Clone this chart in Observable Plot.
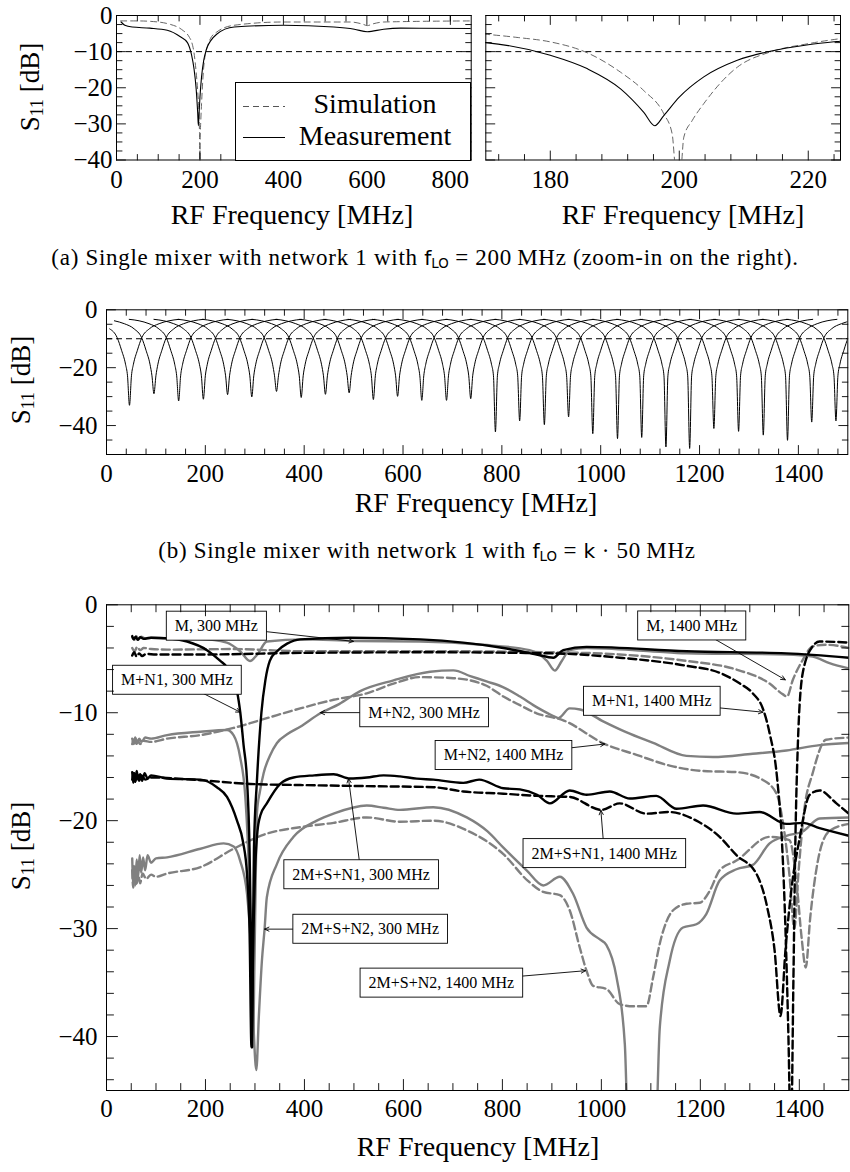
<!DOCTYPE html>
<html><head><meta charset="utf-8">
<script src="https://cdn.jsdelivr.net/npm/d3@7"></script>
<script src="https://cdn.jsdelivr.net/npm/@observablehq/plot@0.6"></script>
<style>
body{margin:0;background:#fff;}
#root{position:relative;width:850px;height:1172px;font-family:"Liberation Serif",serif;color:#000;overflow:hidden;}
.title{position:absolute;font-size:28px;white-space:nowrap;transform:translate(-50%,-50%);line-height:1;}
.ylab{position:absolute;font-size:27px;white-space:nowrap;transform:translate(-50%,-50%) rotate(-90deg);line-height:1;}
.cap{position:absolute;font-size:23px;letter-spacing:0.7px;white-space:nowrap;transform:translate(-50%,-50%);line-height:1;}
sub{font-size:0.66em;vertical-align:-0.28em;line-height:0;}
.sf{font-family:"DejaVu Sans",sans-serif;font-size:0.88em;letter-spacing:0;}
</style></head><body><div id="root"></div>
<script>
// ---------------- Panel (a) data: S11 [dB] vs RF frequency [MHz] ----------------
const aSimulation = [[10,-1.5],[50,-1.5],[100,-1.8],[130,-2.5],[150,-3.4],[160,-4.2],[170,-5.2],[175,-6.1],[180,-7.3],[185.7,-10.3],[190.9,-15.7],[194.5,-20.8],[197.6,-27.2],[198.9,-32.8],[199.5,-43],[200.2,-43],[200.7,-33.7],[202,-29.1],[203.8,-24.4],[209,-14.3],[214.1,-10.1],[220,-7.8],[225,-6.4],[240,-4.6],[282,-2.7],[400,-1.8],[560,-1.8],[590,-2.4],[601,-2.8],[615,-2.3],[641,-1.8],[850,-1.5]];
const aMeasurement = [[11,-1.8],[20,-2.7],[37.6,-3.2],[80,-3.5],[121.6,-4.1],[153,-5.9],[170,-7.5],[180,-11.0],[185.7,-14.7],[190.9,-20.3],[194.5,-26.8],[196.2,-30.5],[197.6,-27.7],[200,-22.6],[203.8,-17.0],[209,-12.4],[214.1,-9.9],[220,-8.1],[225,-7.1],[240,-5.2],[282,-3.2],[400,-2.7],[521,-3.2],[570,-3.8],[601,-4.5],[640,-3.8],[681,-3.5],[850,-3.6]];

// ---------------- Panel (b) data: one measured dip per LO frequency k*50 MHz ----------------
const bDipFreq = [46.5,96,146,196,245,294,344,394,443,491,540,589,638,688,737,787,836,886,935,984,1034,1083,1132,1180,1229,1279,1329,1378,1427,1476];
const bDipDepth = [-33.0,-29.0,-31.5,-30.9,-29.3,-30.1,-28.2,-30.3,-29.2,-28.7,-31.0,-29.9,-31.3,-31.3,-30.7,-42.2,-38.4,-39.7,-37.0,-42.8,-44.5,-44.1,-47.4,-47.9,-41.0,-42.0,-43.3,-45.1,-38.8,-38.4];
const bOffsets = [-100,-80,-60,-40,-25,-16,-8,-4,0,4,8,16,25,40,60,80,100];
const bLevels  = [-3.3,-3.8,-4.8,-6.6,-9.6,-14.0,-18.8,-22.8,null,-22.8,-18.8,-14.0,-9.6,-6.6,-4.8,-3.8,-3.3];

// ---------------- Panel (c) data ----------------
const cM300 = [[52,-3.0],[56,-3.25],[60,-2.9],[65,-3.2],[70,-2.95],[78,-3.1],[90,-3.05],[120,-3.1],[190,-3.15],[243,-3.5],[270,-4.3],[290,-5.2],[305,-4.6],[324,-3.4],[400,-3.2],[500,-3.35],[634,-3.4],[760,-3.7],[855,-4.2],[890,-5.2],[906,-6.1],[920,-5.2],[936,-4.2],[970,-4.0],[1100,-4.3],[1172,-4.5],[1374,-4.6],[1427,-4.8],[1461,-5.4],[1500,-5.9]];
const cMN1_300 = [[52,-2.9],[55,-3.2],[59,-2.95],[63,-3.25],[68,-3.0],[75,-3.15],[90,-3.05],[120,-3.1],[163,-3.4],[203,-4.2],[230,-5.2],[243.5,-5.8],[255,-6.9],[263.7,-8.0],[270.4,-10],[277,-13],[284,-16.3],[289,-22.5],[292,-31],[294,-41],[296,-31],[298,-22.5],[304,-16.3],[313,-10],[321,-7.0],[330,-5.2],[344.5,-4.3],[365,-3.6],[391.5,-3.2],[492,-3.05],[634,-3.2],[802,-4.0],[869,-4.6],[903,-4.9],[923,-4.2],[970,-3.9],[1172,-4.3],[1374,-4.5],[1500,-4.9]];
const cMN2_300 = [[52,-12.4],[55,-12.9],[58,-12.3],[62,-12.8],[66,-12.4],[71,-12.7],[78,-12.3],[90,-12.4],[122.5,-12.07],[190,-11.76],[243.5,-11.6],[257,-12.1],[270,-14.1],[280.5,-17.8],[288,-25],[293,-35],[296,-41],[299,-33],[302,-24],[304,-19.3],[310,-17.3],[317.5,-15.6],[330,-14],[344.5,-12.8],[365,-12],[391.5,-11.3],[432,-10.05],[470,-9.2],[512.6,-8.0],[580,-7.0],[654,-6.2],[701,-6.08],[735,-6.6],[768,-7.1],[800,-7.6],[835.5,-8.5],[870,-9.5],[903,-10.3],[913,-10.5],[936,-9.6],[957,-9.7],[1003.6,-10.8],[1050,-11.8],[1104.6,-12.8],[1172,-14.0],[1225.6,-14.1],[1306,-13.8],[1374,-13.5],[1441,-13.0],[1500,-12.8]];
const cM1400 = [[52,-4.0],[57,-4.3],[62,-3.9],[68,-4.2],[75,-4.0],[90,-4.1],[122.5,-4.15],[257,-4.1],[391.5,-4.3],[654,-4.3],[903,-4.4],[1037,-4.6],[1172,-5.2],[1273,-6.0],[1340,-7.3],[1367,-8.3],[1375,-8.5],[1387,-6.95],[1407,-5.1],[1427,-3.85],[1454,-3.7],[1500,-4.0]];
const cMN1_1400 = [[52,-4.7],[56,-4.4],[61,-4.8],[66,-4.5],[72,-4.75],[80,-4.55],[100,-4.6],[200,-4.6],[400,-4.45],[654,-4.4],[903,-4.5],[1037,-4.9],[1172,-5.65],[1239,-6.3],[1280,-7.3],[1306,-8.2],[1327,-9.7],[1340,-11.9],[1355,-16],[1365,-22],[1372,-30],[1378,-40],[1383,-50],[1388,-35],[1392,-22],[1397,-13],[1407,-6.3],[1427,-3.85],[1441,-3.4],[1500,-3.5]];
const cMN2_1400 = [[52,-12.9],[55,-12.5],[59,-13.0],[63,-12.6],[68,-12.9],[75,-12.6],[90,-12.7],[122.5,-12.4],[190,-12.07],[257,-11.4],[324,-10.5],[391.5,-9.6],[459,-8.8],[526,-8.2],[580,-7.3],[634,-6.7],[701,-6.8],[735,-7.0],[768,-7.5],[802,-8.5],[835.5,-9.3],[869,-10.05],[923,-10.7],[1007,-12.9],[1071,-13.9],[1138,-14.9],[1205.5,-15.4],[1273,-15.5],[1327,-16.25],[1354,-17.5],[1368,-20.5],[1380,-25],[1390,-30],[1398,-25],[1410,-19],[1427,-15.6],[1454,-12.5],[1500,-12.3]];
const c2MSN1_300 = [[52,-15.5],[54,-16.5],[56,-15.6],[58,-16.4],[61,-15.4],[64,-16.2],[68,-15.7],[72,-16.3],[77,-15.6],[83,-16.1],[90,-15.8],[122.5,-16.1],[190,-16.2],[223,-16.9],[243.5,-17.8],[263.7,-20],[276,-22],[284,-25],[289,-30],[293,-41],[297,-30],[300,-25],[305,-21],[311,-19.5],[324,-18.4],[351,-16.6],[378,-16.0],[420,-15.8],[459,-15.7],[492,-16.1],[526,-16.0],[560,-15.8],[593,-15.9],[627,-16.1],[660.6,-16.2],[721,-16.5],[753,-16.2],[802,-17.0],[835.5,-17.1],[870,-17.6],[896,-18.4],[936,-17.2],[970,-17.6],[1017,-17.3],[1057.5,-17.95],[1111,-17.7],[1152,-18.9],[1205.5,-18.6],[1273,-19.35],[1320,-19.2],[1374,-20.3],[1407,-20.2],[1441,-20.7],[1500,-21.4]];
const c2MSN1_1400 = [[52,-16.2],[55,-15.6],[58,-16.4],[62,-15.7],[66,-16.3],[71,-15.8],[78,-16.2],[90,-16.0],[190,-16.25],[290.6,-16.6],[391.5,-16.7],[526,-16.8],[660.6,-16.9],[721,-17.3],[802,-17.5],[869,-17.7],[936,-17.8],[1000,-19.0],[1037,-18.4],[1091,-19.35],[1138,-19.2],[1192,-20],[1239,-21.5],[1273,-23.2],[1313,-24.9],[1335,-28],[1350,-32],[1362,-38.1],[1372,-32],[1385,-26],[1400,-21.8],[1421,-17.6],[1441,-17.2],[1475,-18.4],[1500,-19.35]];
const c2MSN2_300 = [[52,-23.5],[54,-25.8],[56,-24.2],[58,-26.0],[61,-23.6],[64,-25.2],[67,-23.2],[70,-24.8],[74,-23.4],[78,-24.6],[83,-23.2],[90,-23.9],[100,-23.5],[122.5,-23.4],[190,-22.6],[236.7,-22.1],[257,-22.4],[270,-23.7],[284,-26.8],[292,-32],[298,-40],[302.7,-43.1],[308,-38],[314,-33],[319.5,-30],[324,-27.1],[344.5,-24],[378,-21.5],[425,-20.0],[459,-19.35],[526,-18.6],[560,-18.8],[593,-19.0],[660.6,-18.75],[728,-19.7],[770,-21],[802,-22.5],[849,-24.6],[882.6,-26.0],[916,-25.2],[943,-26.8],[970,-29.9],[997,-31.0],[1010,-31.5],[1030.6,-34.5],[1047.4,-40.7],[1058,-55],[1106,-55],[1118,-39.2],[1138,-33.0],[1165,-29.9],[1192,-29.6],[1212,-28.65],[1239,-25.55],[1273,-24.5],[1306,-24.1],[1340,-22.1],[1374,-21.4],[1407,-21],[1441,-19.8],[1500,-19.7]];
const c2MSN2_1400 = [[52,-24.6],[54,-26.2],[57,-24.8],[60,-26.0],[64,-25.0],[68,-25.8],[73,-24.9],[80,-25.4],[90,-25.0],[100,-25.2],[122.5,-24.9],[190,-24.3],[257,-22.6],[324,-21.2],[391.5,-20.6],[459,-20.2],[526,-19.7],[593,-20.1],[660.6,-20.0],[728,-20.9],[802,-23.1],[851,-25.55],[882.6,-26.6],[916,-26.9],[936,-28.3],[956.6,-31.8],[970,-33.9],[983.5,-35.3],[1010.5,-35.6],[1037,-37.0],[1064,-37.2],[1091,-37.2],[1104.6,-34.5],[1118,-31.4],[1145,-28.3],[1172,-27.7],[1199,-27.6],[1219,-26.5],[1239,-24.6],[1273,-23.7],[1340,-21.5],[1380,-21.8],[1395,-26],[1405,-31],[1413,-33.6],[1422,-29],[1437.6,-23.7],[1460,-21],[1500,-20.3]];

const cLabels = ["M, 300 MHz","M+N1, 300 MHz","M+N2, 300 MHz","M, 1400 MHz","M+N1, 1400 MHz","M+N2, 1400 MHz","2M+S+N1, 300 MHz","2M+S+N1, 1400 MHz","2M+S+N2, 300 MHz","2M+S+N2, 1400 MHz"];
const cLabelAt = [[222,-1.97],[142.3,-6.98],[641.8,-9.99],[1182.6,-1.95],[1101.9,-8.93],[802.2,-13.95],[514.6,-25.0],[1006,-23.04],[532.8,-30.05],[676.7,-35.04]];
const cArrowTip = [[499,-3.39],[270.4,-9.95],[431.9,-9.99],[1371.7,-6.95],[1326.5,-9.95],[1007,-12.9],[489,-16.09],[999,-19.04],[319.5,-30.05],[968,-33.9]];

// ---------------- helpers ----------------
const GRAY = "#808080";
const fmt = d => d < 0 ? "\u2212" + Math.abs(d) : String(d);
const range = (a, b, s, skip = []) => d3.range(a, b + s / 2, s).filter(v => !skip.some(k => Math.abs(k - v) < 1e-9));
const rows = (pts, id) => pts.map(([f, s]) => ({f, s, id}));
const tickShape = {draw(ctx, l) { ctx.moveTo(0, 0); ctx.lineTo(0, -l); }};

function frameTicks(xMajor, xMinor, yMajor, yMinor, majorLen, minorLen) {
  const o = {shape: tickShape, anchor: "start", stroke: "black", strokeWidth: 0.9};
  const m = [];
  for (const [v, len] of [[xMajor, majorLen], [xMinor, minorLen]]) {
    m.push(Plot.vectorX(v, {...o, x: d => d, frameAnchor: "bottom", rotate: 0, length: len}));
    m.push(Plot.vectorX(v, {...o, x: d => d, frameAnchor: "top", rotate: 180, length: len}));
  }
  for (const [v, len] of [[yMajor, majorLen], [yMinor, minorLen]]) {
    m.push(Plot.vectorY(v, {...o, y: d => d, frameAnchor: "left", rotate: 90, length: len}));
    m.push(Plot.vectorY(v, {...o, y: d => d, frameAnchor: "right", rotate: -90, length: len}));
  }
  return m;
}

const root = document.getElementById("root");
function place(node, left, top) {
  node.style.position = "absolute"; node.style.left = left + "px"; node.style.top = top + "px";
  root.appendChild(node); return node;
}
function html(cls, inner, x, y) {
  const d = document.createElement("div"); d.className = cls; d.innerHTML = inner;
  d.style.left = x + "px"; d.style.top = y + "px"; root.appendChild(d); return d;
}

function panel({width, height, margin, xDomain, yDomain, xMajor, xMinor, yMajor, yMinor, majorLen, minorLen, yLabels = true, xPad = 10, yPad = 6, marks}) {
  return Plot.plot({
    width, height,
    marginTop: margin[0], marginRight: margin[1], marginBottom: margin[2], marginLeft: margin[3],
    x: {domain: xDomain}, y: {domain: yDomain},
    style: {fontFamily: "Liberation Serif", fontSize: "25px", background: "transparent", overflow: "visible", color: "black"},
    marks: [
      ...marks,
      Plot.frame({stroke: "black", strokeWidth: 1}),
      ...frameTicks(xMajor, xMinor, yMajor, yMinor, majorLen, minorLen),
      Plot.axisX({ticks: xMajor, tickSize: 0, tickPadding: xPad, tickFormat: fmt, label: null, fontSize: 25}),
      Plot.axisY({ticks: yLabels ? yMajor : [], tickSize: 0, tickPadding: yPad, tickFormat: fmt, label: null, fontSize: 25})
    ]
  });
}

// ---------------- Panel (a) left ----------------
const aRowsSim = rows(aSimulation, "sim"), aRowsMeas = rows(aMeasurement, "meas");
const aMarks = [
  Plot.ruleY([-10], {stroke: "black", strokeWidth: 1, strokeDasharray: "6,4"}),
  Plot.line(aRowsSim, {x: "f", y: "s", stroke: "#555", strokeWidth: 0.9, strokeDasharray: "6,4", curve: "monotone-x", clip: true}),
  Plot.line(aRowsMeas, {x: "f", y: "s", stroke: "black", strokeWidth: 1.1, curve: "monotone-x", clip: true})
];
const yA = {yDomain: [-40, 0], yMajor: [-40, -30, -20, -10, 0], yMinor: range(-37.5, -2.5, 2.5, [-30, -20, -10])};
place(panel({width: 480, height: 200, margin: [15, 9.3, 40.5, 116], xDomain: [0, 850],
  xMajor: [0, 200, 400, 600, 800], xMinor: range(50, 800, 50, [200, 400, 600]),
  ...yA, majorLen: 9, minorLen: 5.5, xPad: 10, yPad: 4, marks: aMarks}), 0, 0);

// ---------------- Panel (a) right (zoom) ----------------
place(panel({width: 370, height: 200, margin: [15, 10, 40.5, 5.3], xDomain: [170, 225],
  xMajor: [180, 200, 220], xMinor: range(172, 224, 4, [180, 200, 220]),
  ...yA, majorLen: 9, minorLen: 5.5, yLabels: false, xPad: 10, marks: aMarks}), 480, 0);

// legend of (a)
(() => {
  const svg = d3.create("svg").attr("width", 236).attr("height", 79);
  svg.append("rect").attr("x", 0.5).attr("y", 0.5).attr("width", 235).attr("height", 78).attr("fill", "white").attr("stroke", "black");
  svg.append("line").attr("x1", 8).attr("x2", 50).attr("y1", 24.5).attr("y2", 24.5).attr("stroke", "#555").attr("stroke-dasharray", "6,4");
  svg.append("line").attr("x1", 8).attr("x2", 50).attr("y1", 55.5).attr("y2", 55.5).attr("stroke", "black").attr("stroke-width", 1.1);
  svg.append("text").attr("x", 140).attr("y", 31).attr("text-anchor", "middle").attr("font-family", "Liberation Serif").attr("font-size", 28).text("Simulation");
  svg.append("text").attr("x", 140).attr("y", 63).attr("text-anchor", "middle").attr("font-family", "Liberation Serif").attr("font-size", 28).text("Measurement");
  place(svg.node(), 235, 81.5);
})();

html("ylab", "S<sub>11</sub> [dB]", 30, 87);
html("title", "RF Frequency [MHz]", 292, 215);
html("title", "RF Frequency [MHz]", 683, 215);
html("cap", '(a) Single mixer with network 1 with <span class="sf">f<sub>LO</sub></span> = 200&#8239;MHz (zoom-in on the right).', 425, 257);

// ---------------- Panel (b) ----------------
const bRows = [];
bDipFreq.forEach((f0, i) => bOffsets.forEach((o, j) => {
  const f = f0 + o;
  if (f < 5) return;
  bRows.push({id: i, f, s: o === 0 ? bDipDepth[i] : bLevels[j]});
}));
place(panel({width: 850, height: 200, margin: [19.3, 2.7, 36, 106], xDomain: [0, 1500], yDomain: [-50, 0],
  xMajor: range(0, 1400, 200), xMinor: range(40, 1480, 40, [200, 400, 600, 800, 1000, 1200, 1400]),
  yMajor: [-40, -20, 0], yMinor: [-45, -35, -30, -25, -15, -10, -5], majorLen: 9, minorLen: 5.5, xPad: 10, yPad: 9,
  marks: [
    Plot.ruleY([-10], {stroke: "black", strokeWidth: 1, strokeDasharray: "6,4"}),
    Plot.line(bRows, {x: "f", y: "s", z: "id", stroke: "black", strokeWidth: 1, curve: "monotone-x", clip: true})
  ]}), 0, 290);
html("ylab", "S<sub>11</sub> [dB]", 21, 380);
html("title", "RF Frequency [MHz]", 476, 503);
html("cap", '(b) Single mixer with network 1 with <span class="sf">f<sub>LO</sub></span> = <span class="sf">k</span> · 50&#8239;MHz', 427, 550);

// ---------------- Panel (c) ----------------
const cGraySolid = [...rows(cM300, "m300"), ...rows(cMN2_300, "mn2_300"), ...rows(c2MSN2_300, "2msn2_300")];
const cGrayDash = [...rows(cM1400, "m1400"), ...rows(cMN2_1400, "mn2_1400"), ...rows(c2MSN2_1400, "2msn2_1400")];
const cBlackSolid = [...rows(cMN1_300, "mn1_300"), ...rows(c2MSN1_300, "2msn1_300")];
const cBlackDash = [...rows(cMN1_1400, "mn1_1400"), ...rows(c2MSN1_1400, "2msn1_1400")];
const ann = cLabels.map((t, i) => ({t, lx: cLabelAt[i][0], ly: cLabelAt[i][1], tx: cArrowTip[i][0], ty: cArrowTip[i][1]}));
const lineOpts = {x: "f", y: "s", z: "id", strokeWidth: 2.4, curve: "monotone-x", clip: true};
const svgC = place(panel({width: 850, height: 560, margin: [24.3, 1.7, 50, 106], xDomain: [0, 1500], yDomain: [-45, 0],
  xMajor: range(0, 1400, 200), xMinor: range(50, 1450, 50, [200, 400, 600, 800, 1000, 1200, 1400]),
  yMajor: [-40, -30, -20, -10, 0], yMinor: range(-44, -2, 2, [-40, -30, -20, -10]), majorLen: 11, minorLen: 7, xPad: 9, yPad: 9,
  marks: [
    Plot.line(cGrayDash, {...lineOpts, stroke: GRAY, strokeDasharray: "8,4"}),
    Plot.line(cGraySolid, {...lineOpts, stroke: GRAY}),
    Plot.line(cBlackDash, {...lineOpts, stroke: "black", strokeDasharray: "8,4"}),
    Plot.line(cBlackSolid, {...lineOpts, stroke: "black"}),
    Plot.arrow(ann, {x1: "lx", y1: "ly", x2: "tx", y2: "ty", stroke: "black", strokeWidth: 0.9, headLength: 8, headAngle: 50}),
    Plot.text(ann, {x: "lx", y: "ly", text: "t", fontSize: 16, fill: "black"})
  ]}), 0, 580);
// white framed boxes behind the annotation texts
Array.from(svgC.querySelectorAll("text"))
  .filter(t => cLabels.includes(t.textContent))
  .forEach(t => {
    const b = t.getBBox();
    const r = document.createElementNS("http://www.w3.org/2000/svg", "rect");
    r.setAttribute("x", b.x - 8.5); r.setAttribute("y", b.y - 6);
    r.setAttribute("width", b.width + 17); r.setAttribute("height", b.height + 12);
    const tr = t.getAttribute("transform");
    if (tr) r.setAttribute("transform", tr);
    r.setAttribute("fill", "white"); r.setAttribute("stroke", "black"); r.setAttribute("stroke-width", "0.9");
    t.parentNode.insertBefore(r, t);
  });
html("ylab", "S<sub>11</sub> [dB]", 21, 846);
html("title", "RF Frequency [MHz]", 478, 1147);
</script></body></html>
